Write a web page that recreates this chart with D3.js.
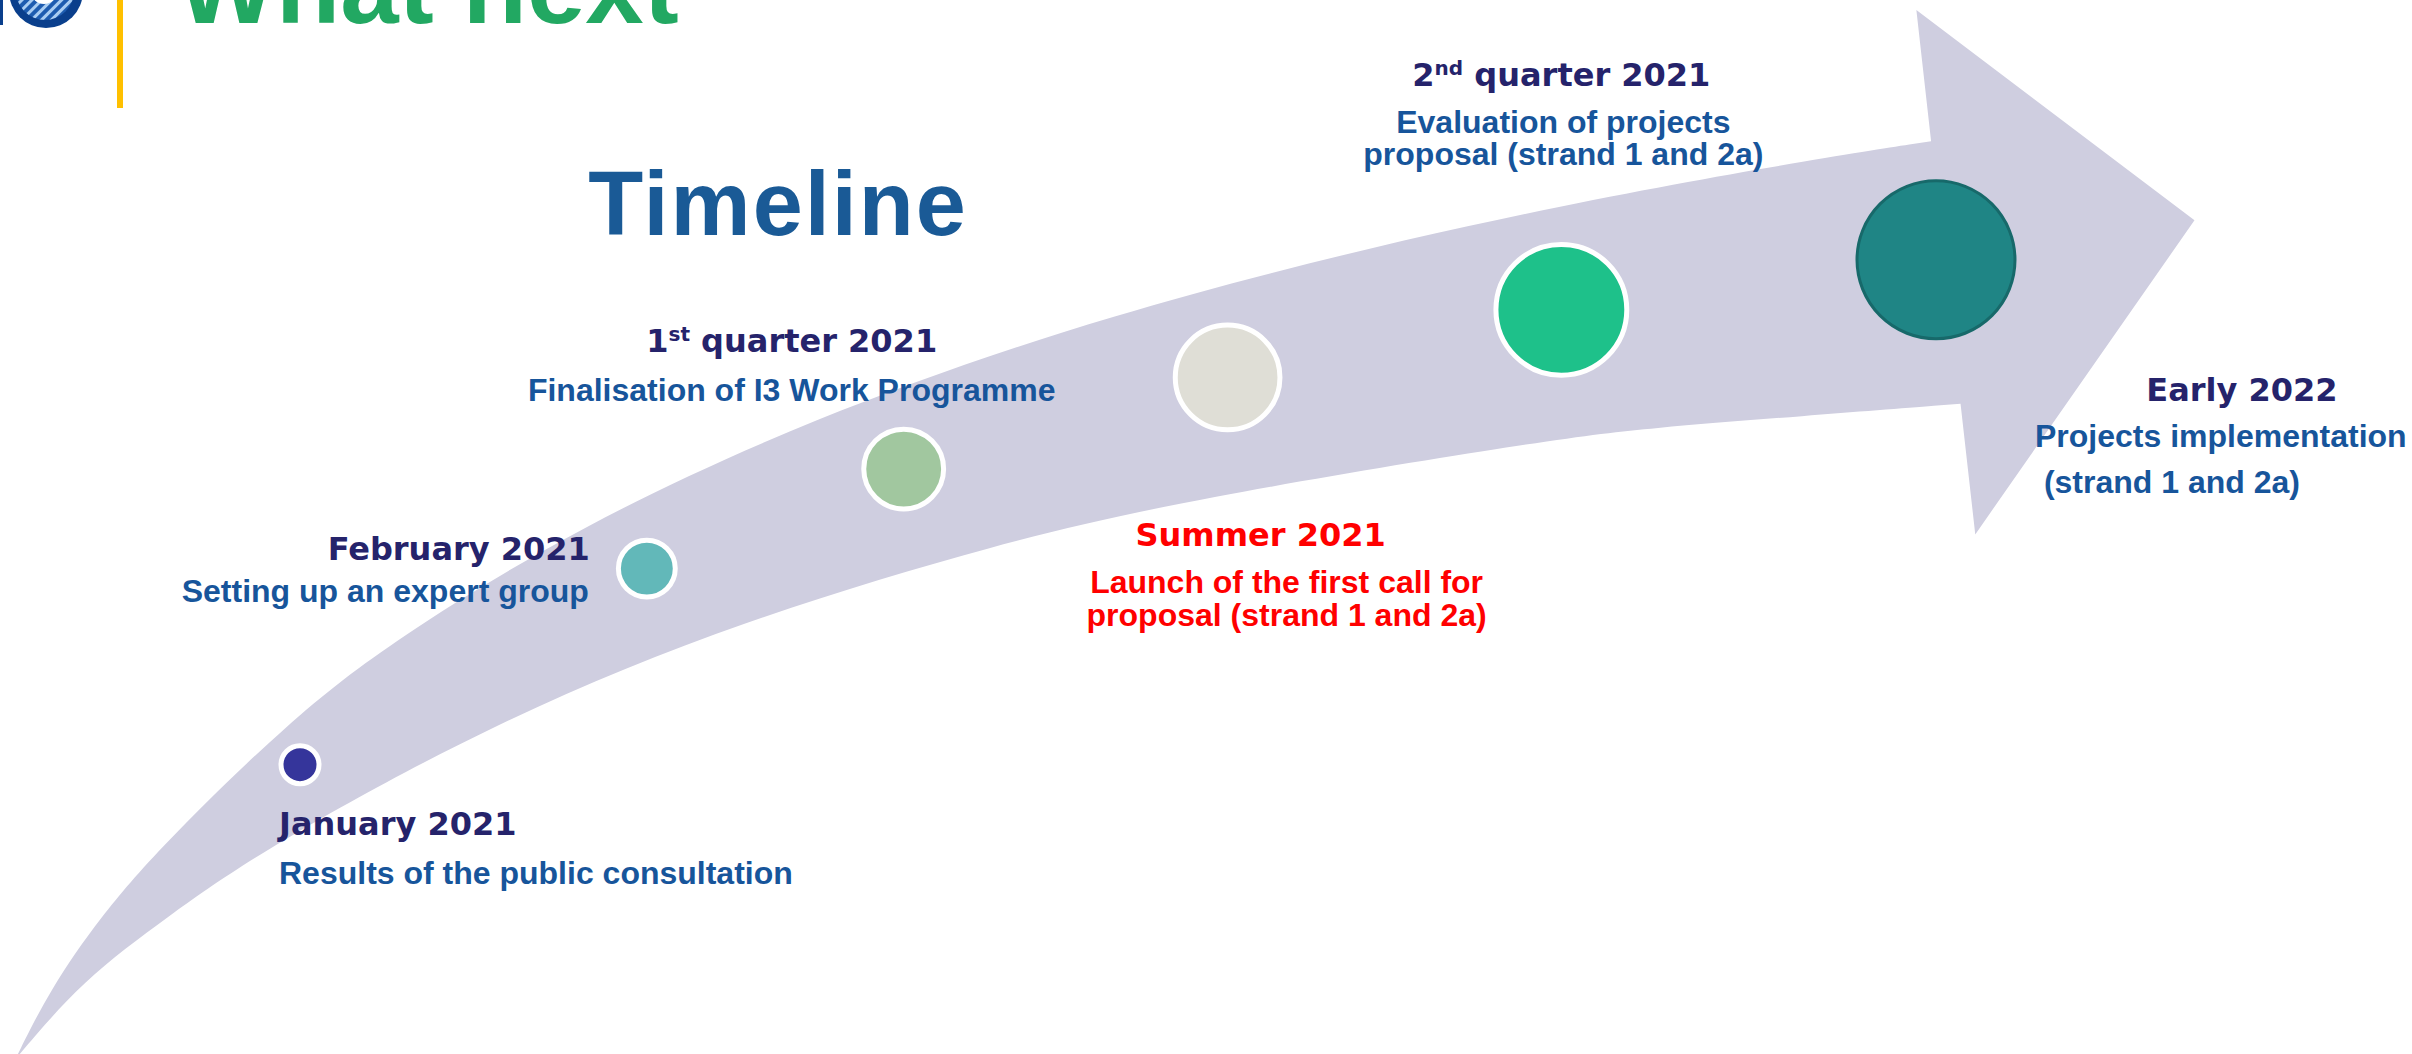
<!DOCTYPE html>
<html>
<head>
<meta charset="utf-8">
<script src="https://cdn.jsdelivr.net/npm/d3@7"></script>
<style>
  body { margin: 0; background: #fff; }
  svg { display: block; }
</style>
</head>
<body>
<div id="chart-area"></div>
<script>
// milestones, in the order they sit on the arrow
var dates = ["January 2021", "February 2021", "1st quarter 2021", "Summer 2021", "2nd quarter 2021", "Early 2022"]
var descriptions = [
  ["Results of the public consultation"],
  ["Setting up an expert group"],
  ["Finalisation of I3 Work Programme"],
  ["Launch of the first call for", "proposal (strand 1 and 2a)"],
  ["Evaluation of projects", "proposal (strand 1 and 2a)"],
  ["Projects implementation", "\u00a0(strand 1 and 2a)"]
]
// how far along the arrow each milestone sits (first = 0, last = 100)
var progress = [0, 21.2, 36.9, 56.7, 77.1, 100]
var current = "Summer 2021"

// arrow outline, in [progress, rise %] units
var arrowTop = [[-17.4, -0.5], [-15.3, 6.1], [-12.2, 13.0], [-8.7, 19.4], [-0.6, 31.7], [5.7, 39.3],
  [17.1, 50.1], [31.0, 60.2], [48.9, 70.1], [71.9, 79.1], [91.7, 84.7], [99.7, 86.6]]
var arrowHead = [[98.8, 99.05], [115.8, 79.1], [102.4, 49.3], [101.5, 61.7]]
var arrowBottom = [[101.5, 61.7], [91.7, 60.5], [82.5, 59.4], [76.4, 58.3], [54.2, 52.6], [42.8, 48.5],
  [27.1, 41.2], [12.1, 31.7], [-2.3, 19.4], [-8.1, 13.0], [-13.3, 7.0], [-17.4, -0.5]]

var dotColors = ["#35359b", "#62b8b9", "#a1c79f", "#dfded6", "#1ec18a", "#1f8585"]

// label placement relative to each dot
var labelLayout = [
  { anchor: "start", dx: -21, dy: 70, descAnchor: "start", descDx: -21, descDy: 119, lh: 33 },
  { anchor: "end", dx: -57, dy: -9, descAnchor: "end", descDx: -58, descDy: 33, lh: 33 },
  { anchor: "middle", dx: -112, dy: -117, descAnchor: "middle", descDx: -112, descDy: -68, lh: 33 },
  { anchor: "middle", dx: 33, dy: 169, descAnchor: "middle", descDx: 59, descDy: 216, lh: 33 },
  { anchor: "middle", dx: 0, dy: -224, descAnchor: "middle", descDx: 2, descDy: -177, lh: 32 },
  { anchor: "middle", dx: 306, dy: 141, descAnchor: "start", descDx: 99, descDy: 187, lh: 46 }
]

var width = 2412
var height = 1054

var svg = d3.select("#chart-area")
  .append("svg")
  .attr("width", width)
  .attr("height", height)

var x = d3.scaleLinear().domain([0, 100]).range([300, 1936])
var y = d3.scaleLinear().domain([0, 100]).range([height, 0])
var r = d3.scalePow().exponent(1.15).domain([0, dates.length - 1]).range([19, 79])
var color = d3.scaleOrdinal(dates, dotColors)

// edges as piecewise scales, used to seat the dots inside the band
var topAt = d3.scaleLinear().domain(arrowTop.map(d => d[0])).range(arrowTop.map(d => y(d[1])))
var bottomRev = arrowBottom.slice().reverse()
var bottomAt = d3.scaleLinear().domain(bottomRev.map(d => d[0])).range(bottomRev.map(d => y(d[1])))

// header
var defs = svg.append("defs")
var hatch = defs.append("pattern")
  .attr("id", "hatch")
  .attr("width", 7)
  .attr("height", 7)
  .attr("patternUnits", "userSpaceOnUse")
  .attr("patternTransform", "rotate(45)")
hatch.append("rect").attr("width", 7).attr("height", 7).attr("fill", "#1d5cb0")
hatch.append("rect").attr("width", 3).attr("height", 7).attr("fill", "#a9cdf2")

var logo = svg.append("g")
logo.append("rect").attr("x", 0).attr("y", 0).attr("width", 3).attr("height", 25).attr("fill", "#0a3f8c")
logo.append("circle").attr("cx", 46).attr("cy", -9).attr("r", 37).attr("fill", "#0a3f8c")
logo.append("circle").attr("cx", 45).attr("cy", -9).attr("r", 29).attr("fill", "url(#hatch)")
logo.append("circle").attr("cx", 44).attr("cy", -9).attr("r", 13).attr("fill", "#fff")

svg.append("rect")
  .attr("x", 117)
  .attr("y", 0)
  .attr("width", 6)
  .attr("height", 108)
  .attr("fill", "#ffc000")

svg.append("text")
  .text("What next")
  .attr("x", 177)
  .attr("y", 23)
  .attr("font-family", "Liberation Sans, Arial, sans-serif")
  .attr("font-weight", "bold")
  .attr("font-size", "105px")
  .attr("fill", "#22a862")

svg.append("text")
  .text("Timeline")
  .attr("x", 778)
  .attr("y", 235)
  .attr("text-anchor", "middle")
  .attr("font-family", "Liberation Sans, Arial, sans-serif")
  .attr("font-weight", "bold")
  .attr("font-size", "90px")
  .attr("letter-spacing", "2px")
  .attr("fill", "#1a5a96")

// the arrow
var edge = d3.line()
  .x(d => x(d[0]))
  .y(d => y(d[1]))
  .curve(d3.curveBasis)

var headPath = arrowHead.map(d => "L" + x(d[0]) + "," + y(d[1])).join("")
var arrowPath = edge(arrowTop) + headPath + edge(arrowBottom).replace(/^M/, "L") + "Z"

svg.append("path")
  .attr("d", arrowPath)
  .attr("fill", "#cfcee0")

// milestones
var points = dates.map(function(d, i) {
  var px = x(progress[i])
  var top = topAt(progress[i])
  var bottom = bottomAt(progress[i])
  return { date: d, desc: descriptions[i], i: i, x: px, y: top + 0.45 * (bottom - top) }
})

svg.selectAll("circle.dot")
  .data(points)
  .enter()
  .append("circle")
  .attr("class", "dot")
  .attr("cx", d => d.x)
  .attr("cy", d => d.y)
  .attr("r", d => r(d.i))
  .attr("fill", d => color(d.date))
  .attr("stroke", d => d.i === dates.length - 1 ? "#17696a" : "#fff")
  .attr("stroke-width", d => d.i === dates.length - 1 ? 3 : 5)

var dateText = svg.selectAll("text.date")
  .data(points)
  .enter()
  .append("text")
  .attr("class", "date")
  .attr("x", d => d.x + labelLayout[d.i].dx)
  .attr("y", d => d.y + labelLayout[d.i].dy)
  .attr("text-anchor", d => labelLayout[d.i].anchor)
  .attr("font-family", "DejaVu Sans, Verdana, sans-serif")
  .attr("font-weight", "bold")
  .attr("font-size", "32px")
  .attr("fill", d => d.date === current ? "#ff0000" : "#25236b")

// ordinal dates get a superscript suffix
dateText.each(function(d) {
  var t = d3.select(this)
  var m = d.date.match(/^(\d+)(st|nd|rd|th)(.*)$/)
  if (!m) {
    t.text(d.date)
    return
  }
  t.append("tspan").text(m[1])
  t.append("tspan").text(m[2]).attr("font-size", "20px").attr("dy", -11)
  t.append("tspan").text(m[3]).attr("dy", 11)
})

points.forEach(function(d) {
  var lay = labelLayout[d.i]
  svg.append("g")
    .selectAll("text")
    .data(d.desc)
    .enter()
    .append("text")
    .text(s => s)
    .attr("x", d.x + lay.descDx)
    .attr("y", (s, j) => d.y + lay.descDy + j * lay.lh)
    .attr("text-anchor", lay.descAnchor)
    .attr("font-family", "Liberation Sans, Arial, sans-serif")
    .attr("font-weight", "bold")
    .attr("font-size", "32px")
    .attr("fill", d.date === current ? "#ff0000" : "#17559b")
})
</script>
</body>
</html>
